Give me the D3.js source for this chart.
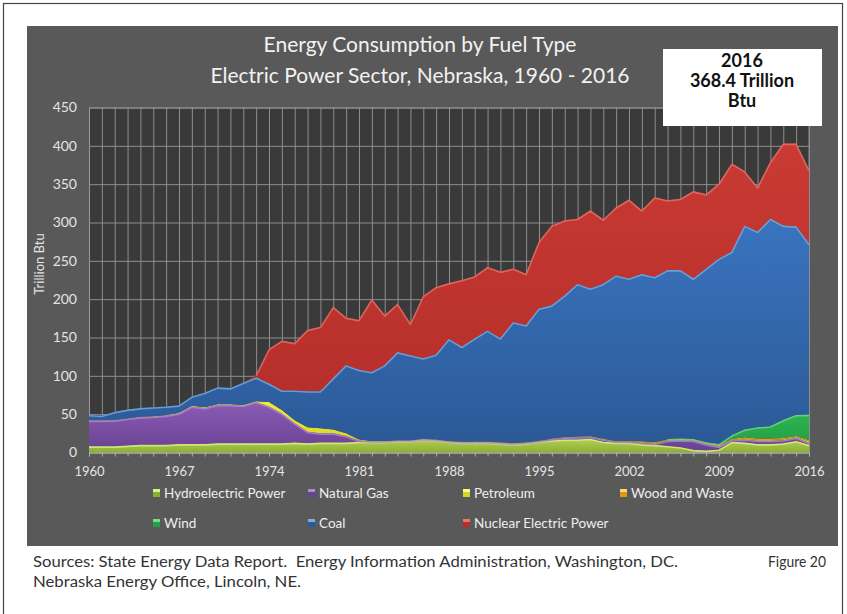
<!DOCTYPE html>
<html>
<head>
<meta charset="utf-8">
<script src="https://cdn.jsdelivr.net/npm/d3@7"></script>
<style>
  body { margin: 0; background: #fff; }
  text { font-family: Lato, "Open Sans", sans-serif; }
</style>
</head>
<body>
<svg id="chart" width="847" height="614"></svg>
<script>
// ==========
// CHART DATA
// ==========

const years = [
  1960, 1961, 1962, 1963, 1964, 1965, 1966, 1967, 1968, 1969,
  1970, 1971, 1972, 1973, 1974, 1975, 1976, 1977, 1978, 1979,
  1980, 1981, 1982, 1983, 1984, 1985, 1986, 1987, 1988, 1989,
  1990, 1991, 1992, 1993, 1994, 1995, 1996, 1997, 1998, 1999,
  2000, 2001, 2002, 2003, 2004, 2005, 2006, 2007, 2008, 2009,
  2010, 2011, 2012, 2013, 2014, 2015, 2016
];

// trillion Btu
const hydro = [
  8, 8, 8, 9, 10, 10, 10, 11, 11, 11,
  12, 12, 12, 12, 12, 12, 13, 12, 13, 13,
  13, 14, 14, 14, 15, 15, 17, 16, 14, 13,
  13, 13, 12, 11, 12, 14, 16, 17, 17, 18,
  14, 13, 13, 11, 10, 8.5, 7, 3.5, 2.5, 4,
  14, 13, 11, 11, 12, 15, 10
];
const naturalGas = [
  33.5, 33.5, 34, 35, 36, 36.7, 38, 40, 49, 47,
  50, 50, 49, 54, 48, 39, 25, 15, 12, 12,
  8.5, 1.5, 0.5, 0.5, 0.5, 0.5, 0.5, 0.5, 0.5, 0.5,
  0.5, 0.5, 0.5, 0.5, 0.5, 0.5, 1.5, 2.5, 3, 2.5,
  3, 1, 1, 1.5, 1.5, 7, 9, 12, 8.5, 3.6,
  2.3, 4, 4.4, 4.4, 4, 4.3, 2.8
];
const petroleum = [
  0.5, 0.5, 0.5, 0.5, 0.5, 0.5, 0.5, 1, 1, 1,
  1, 1, 1, 1, 6, 4.5, 4, 6, 6.5, 5,
  3.5, 1.6, 0.5, 0.5, 0.5, 0.5, 0.5, 0.5, 0.5, 0.5,
  0.5, 0.5, 0.5, 0.5, 0.5, 0.5, 0.5, 0.5, 0.5, 0.5,
  0.5, 0.5, 0.5, 1, 1, 0.8, 0.8, 0.8, 0.8, 1,
  0.8, 1, 1, 1, 1, 1, 1.5
];
const woodWaste = [
  0, 0, 0, 0, 0, 0, 0, 0, 0, 0,
  0, 0, 0, 0, 0, 0, 0, 0, 0, 0,
  0, 0, 0, 0, 0, 0, 0, 0, 0, 0,
  0.3, 0.3, 0.3, 0.3, 0.3, 0.3, 0.3, 0.3, 0.3, 0.3,
  0.5, 0.5, 0.5, 1.2, 1, 0.8, 0.9, 0.8, 1, 1.2,
  0.9, 1.8, 2, 2, 2, 1.2, 2
];
const wind = [
  0, 0, 0, 0, 0, 0, 0, 0, 0, 0,
  0, 0, 0, 0, 0, 0, 0, 0, 0, 0,
  0, 0, 0, 0, 0, 0, 0, 0, 0, 0,
  0, 0, 0, 0, 0, 0, 0, 0, 0.1, 0.1,
  0.1, 0.1, 0.1, 0.1, 0.1, 0.5, 0.5, 0.5, 0.6, 1.2,
  4.5, 10.2, 14.5, 16, 23.5, 27.5, 33
];
const coal = [
  7, 6, 10.5, 11.5, 11.5, 11.8, 11.5, 9.5, 12, 19,
  22, 21, 29, 31, 24, 25.5, 39, 47, 48.5, 67,
  89, 90.9, 90, 99, 115, 111, 105, 111, 133, 124,
  134.7, 144.7, 135.7, 157.7, 152.7, 172.7, 173.7, 184.7, 199.1, 192.6,
  201.9, 215.9, 211.9, 218.2, 215.4, 220.4, 219.8, 209.4, 226.6, 242,
  239.5, 266, 255.1, 270.6, 253.5, 246, 222.7
];
const nuclear = [
  0, 0, 0, 0, 0, 0, 0, 0, 0, 0,
  0, 0, 0, 3, 45, 65, 62, 80, 84, 93,
  62, 65, 95, 65, 63, 41, 81, 88, 73, 87,
  81, 83, 87, 70, 67, 87, 104, 98, 85, 102,
  84, 89, 103, 83, 104, 91, 93, 114, 97, 98,
  115, 71, 58, 74, 107, 108, 96.4
];

const seriesKeys = ["hydro", "gas", "petroleum", "wood", "wind", "coal", "nuclear"];
const seriesNames = ["Hydroelectric Power", "Natural Gas", "Petroleum", "Wood and Waste",
                     "Wind", "Coal", "Nuclear Electric Power"];
const xLabelYears = [1960, 1967, 1974, 1981, 1988, 1995, 2002, 2009, 2016];
const yTicks = [0, 50, 100, 150, 200, 250, 300, 350, 400, 450];

// fill colours: [top, bottom, highlight]
const colors = {
  hydro:     ["#b4d154", "#8aae34", "#def28c"],
  gas:       ["#8a5cb4", "#6a4294", "#b08ad6"],
  petroleum: ["#eeea3a", "#d8d424", "#fbf88a"],
  wood:      ["#f2b62a", "#dc9a14", "#fbd676"],
  wind:      ["#34bc56", "#22a044", "#74dc8c"],
  coal:      ["#3a74bf", "#2b5996", "#7ab0e8"],
  nuclear:   ["#c93a34", "#b52e2a", "#e8766c"]
};

// table for d3.stack
const table = years.map((yr, i) => ({
  year: yr,
  hydro: hydro[i],
  gas: naturalGas[i],
  petroleum: petroleum[i],
  wood: woodWaste[i],
  wind: wind[i],
  coal: coal[i],
  nuclear: nuclear[i]
}));

// ======
// LAYOUT
// ======

const svg = d3.select("#chart");
const plot = { left: 89, right: 809, top: 107.5, bottom: 452.5 };

const x = d3.scaleLinear().domain([1960, 2016]).range([plot.left, plot.right]);
const y = d3.scaleLinear().domain([0, 450]).range([plot.bottom, plot.top]);

// outer frame and grey panel
svg.append("rect")
  .attr("x", 3.5).attr("y", 3.5).attr("width", 839).attr("height", 640)
  .attr("fill", "none").attr("stroke", "#444").attr("stroke-width", 1.2);

svg.append("rect")
  .attr("x", 27).attr("y", 26).attr("width", 811).attr("height", 520)
  .attr("fill", "#595959");

svg.append("rect")
  .attr("x", plot.left).attr("y", plot.top)
  .attr("width", plot.right - plot.left).attr("height", plot.bottom - plot.top)
  .attr("fill", "#3a3a3a");

// gradients
const defs = svg.append("defs");
seriesKeys.forEach(k => {
  const g = defs.append("linearGradient")
    .attr("id", "grad-" + k)
    .attr("x1", 0).attr("y1", 0).attr("x2", 0).attr("y2", 1);
  g.append("stop").attr("offset", "0%").attr("stop-color", colors[k][0]);
  g.append("stop").attr("offset", "100%").attr("stop-color", colors[k][1]);
});

// grid
svg.append("g")
  .attr("class", "vgrid")
  .attr("transform", `translate(0,${plot.bottom})`)
  .call(d3.axisBottom(x).tickValues(years).tickSize(-(plot.bottom - plot.top)).tickFormat(""))
  .call(g => g.select(".domain").remove())
  .call(g => g.selectAll("line").attr("stroke", "#8e8e8e").attr("stroke-width", 1));

svg.append("g")
  .attr("class", "yaxis")
  .attr("transform", `translate(${plot.left},0)`)
  .call(d3.axisLeft(y).tickValues(yTicks).tickSize(-(plot.right - plot.left)).tickPadding(12))
  .call(g => g.select(".domain").attr("stroke", "#9a9a9a"))
  .call(g => g.selectAll("line").attr("stroke", "#8e8e8e"))
  .call(g => g.selectAll("text")
    .attr("fill", "#e4e4e4").attr("font-size", 14).attr("font-family", "Lato"));

// right edge of plot
svg.append("line")
  .attr("x1", plot.right).attr("x2", plot.right)
  .attr("y1", plot.top).attr("y2", plot.bottom)
  .attr("stroke", "#8e8e8e");

// ===========
// STACK AREAS
// ===========

const stacked = d3.stack().keys(seriesKeys)(table);

const area = d3.area()
  .x(d => x(d.data.year))
  .y0(d => y(d[0]))
  .y1(d => y(d[1]));

const topLine = d3.line()
  .defined(d => d[1] - d[0] > 0.3)
  .x(d => x(d.data.year))
  .y(d => y(d[1]) + 0.8);

const layers = svg.append("g").attr("class", "layers");

stacked.forEach(s => {
  layers.append("path")
    .datum(s)
    .attr("d", area)
    .attr("fill", `url(#grad-${s.key})`);
});

// light bevel along the top of the big layers
stacked.filter(s => ["hydro", "gas", "wind", "coal", "nuclear"].includes(s.key)).forEach(s => {
  layers.append("path")
    .datum(s)
    .attr("d", topLine)
    .attr("fill", "none")
    .attr("stroke", colors[s.key][2])
    .attr("stroke-width", 1.6)
    .attr("stroke-opacity", 0.75)
    .attr("stroke-linejoin", "round");
});

// ======
// X AXIS
// ======

svg.append("g")
  .attr("transform", `translate(0,${plot.bottom})`)
  .call(d3.axisBottom(x).tickValues(years).tickSize(4).tickFormat(""))
  .call(g => g.select(".domain").attr("stroke", "#b0b0b0"))
  .call(g => g.selectAll("line").attr("stroke", "#b0b0b0"));

svg.append("g")
  .attr("transform", `translate(0,${plot.bottom})`)
  .call(d3.axisBottom(x).tickValues(xLabelYears).tickSize(0).tickPadding(14).tickFormat(d3.format("d")))
  .call(g => g.select(".domain").remove())
  .call(g => g.selectAll("text")
    .attr("fill", "#e4e4e4").attr("font-size", 13).attr("font-family", "Lato"));

svg.append("text")
  .attr("transform", "translate(44,264) rotate(-90)")
  .attr("text-anchor", "middle")
  .attr("fill", "#e4e4e4")
  .attr("font-size", 13)
  .text("Trillion Btu");

// =====
// TITLE
// =====

svg.append("text")
  .attr("x", 420).attr("y", 52)
  .attr("text-anchor", "middle").attr("fill", "#f2f2f2").attr("font-size", 21)
  .text("Energy Consumption by Fuel Type");
svg.append("text")
  .attr("x", 420).attr("y", 83)
  .attr("text-anchor", "middle").attr("fill", "#f2f2f2").attr("font-size", 21)
  .text("Electric Power Sector, Nebraska, 1960 - 2016");

// 2016 total box
svg.append("rect")
  .attr("x", 663).attr("y", 49).attr("width", 159).attr("height", 77)
  .attr("fill", "#fff");
["2016", "368.4 Trillion", "Btu"].forEach((t, i) => {
  svg.append("text")
    .attr("x", 742).attr("y", 67 + i * 20)
    .attr("text-anchor", "middle")
    .attr("font-family", "Liberation Sans, Arial, sans-serif")
    .attr("font-weight", "bold").attr("font-size", 18)
    .attr("fill", "#111")
    .text(t);
});

// ======
// LEGEND
// ======

const legendCols = [157, 312, 467, 624];
const legend = svg.append("g").attr("class", "legend");
seriesKeys.forEach((k, i) => {
  const row = i < 4 ? 0 : 1;
  const col = i < 4 ? i : i - 4;
  const lx = legendCols[col];
  const ly = row === 0 ? 493 : 523;
  legend.append("rect")
    .attr("x", lx - 4).attr("y", ly - 4).attr("width", 7).attr("height", 8)
    .attr("fill", colors[k][1]);
  legend.append("rect")
    .attr("x", lx - 4).attr("y", ly - 4).attr("width", 7).attr("height", 3)
    .attr("fill", colors[k][2]);
  legend.append("text")
    .attr("x", lx + 7).attr("y", ly + 4.5)
    .attr("fill", "#eeeeee").attr("font-size", 13.5)
    .text(seriesNames[i]);
});

// ======
// FOOTER
// ======

svg.append("text")
  .attr("x", 33).attr("y", 567)
  .attr("fill", "#333").attr("font-size", 14.5).attr("font-family", "Open Sans")
  .attr("textLength", 645).attr("lengthAdjust", "spacingAndGlyphs")
  .attr("xml:space", "preserve")
  .text("Sources: State Energy Data Report.  Energy Information Administration, Washington, DC.");
svg.append("text")
  .attr("x", 33).attr("y", 587)
  .attr("fill", "#333").attr("font-size", 14.5).attr("font-family", "Open Sans")
  .attr("textLength", 268).attr("lengthAdjust", "spacingAndGlyphs")
  .text("Nebraska Energy Office, Lincoln, NE.");
svg.append("text")
  .attr("x", 826).attr("y", 567)
  .attr("text-anchor", "end")
  .attr("fill", "#333").attr("font-size", 14.5).attr("font-family", "Open Sans")
  .attr("textLength", 58).attr("lengthAdjust", "spacingAndGlyphs")
  .text("Figure 20");
</script>
</body>
</html>
